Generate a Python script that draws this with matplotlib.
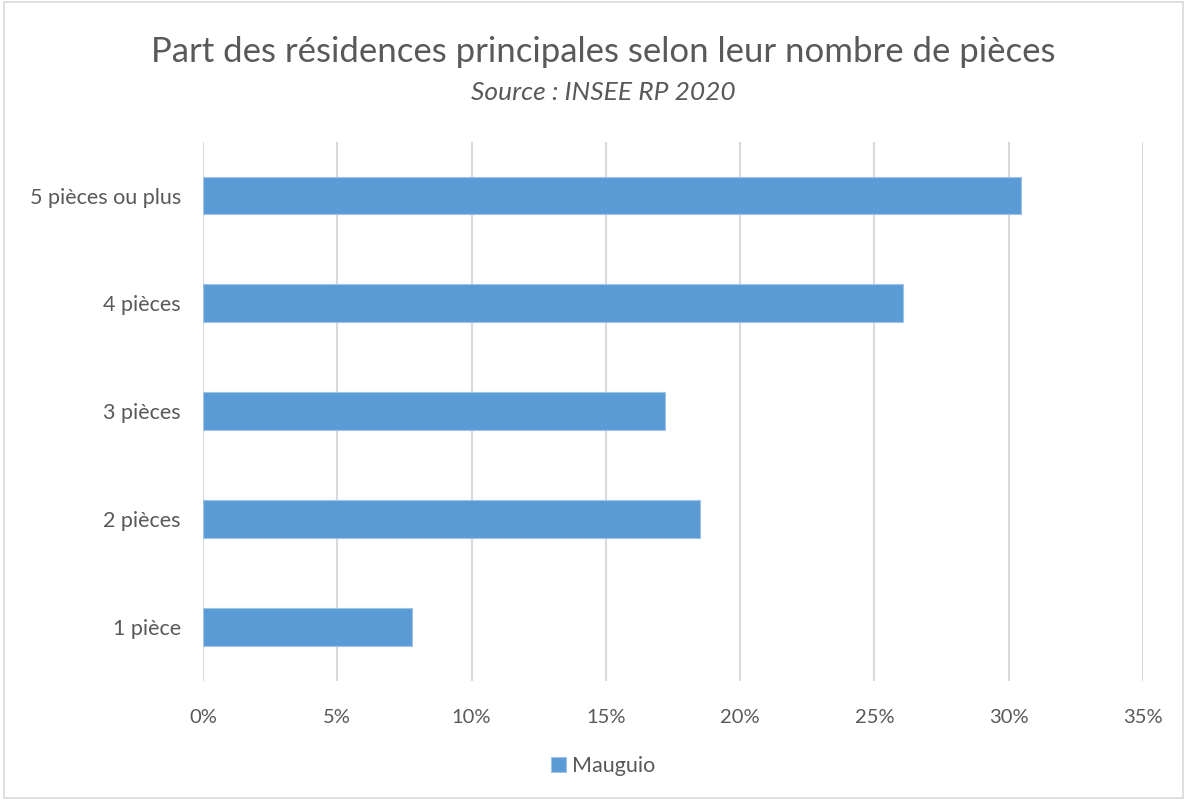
import matplotlib.pyplot as plt
from matplotlib.patches import Rectangle

categories = ["1 pièce", "2 pièces", "3 pièces", "4 pièces", "5 pièces ou plus"]
values = [7.8, 18.5, 17.2, 26.05, 30.45]
ticks = [0, 5, 10, 15, 20, 25, 30, 35]

grey = "#595959"
plt.rcParams['font.family'] = ['Lato', 'DejaVu Sans']

fig = plt.figure(figsize=(11.87, 8.0), dpi=100)
ax = fig.add_axes([0.171, 0.149, 0.792, 0.674])

bars = ax.barh(categories, values, height=0.35, color="#5B9BD5",
               edgecolor="#9DC3E6", linewidth=0.8, label="Mauguio", zorder=3)

ax.set_xlim(0, 35)
ax.set_ylim(-0.5, 4.5)
ax.set_xticks(ticks)
ax.set_xticklabels([f"{t}%" for t in ticks])
ax.xaxis.grid(True, color="#D9D9D9", linewidth=1.5, zorder=0)
for s in ax.spines.values():
    s.set_visible(False)
ax.tick_params(axis="both", length=0, colors=grey)
ax.tick_params(axis="x", pad=20, labelsize=14.5)
ax.tick_params(axis="y", pad=16, labelsize=15.5)

fig.text(0.508, 0.935, "Part des résidences principales selon leur nombre de pièces",
         ha="center", va="center", fontsize=25, color=grey)
fig.text(0.508, 0.885, "Source : INSEE RP 2020", ha="center", va="center",
         fontsize=19, color=grey, style="italic")

fig.legend(handles=[bars], labels=["Mauguio"], loc="center", bbox_to_anchor=(0.508, 0.042),
           frameon=False, fontsize=15.5, labelcolor=grey, handlelength=0.7,
           handleheight=0.7, handletextpad=0.3)

fig.patches.append(Rectangle((0.003, 0.003), 0.994, 0.994, transform=fig.transFigure,
                             fill=False, edgecolor="#D9D9D9", linewidth=1.2))

fig.savefig("out.png", dpi=100)
